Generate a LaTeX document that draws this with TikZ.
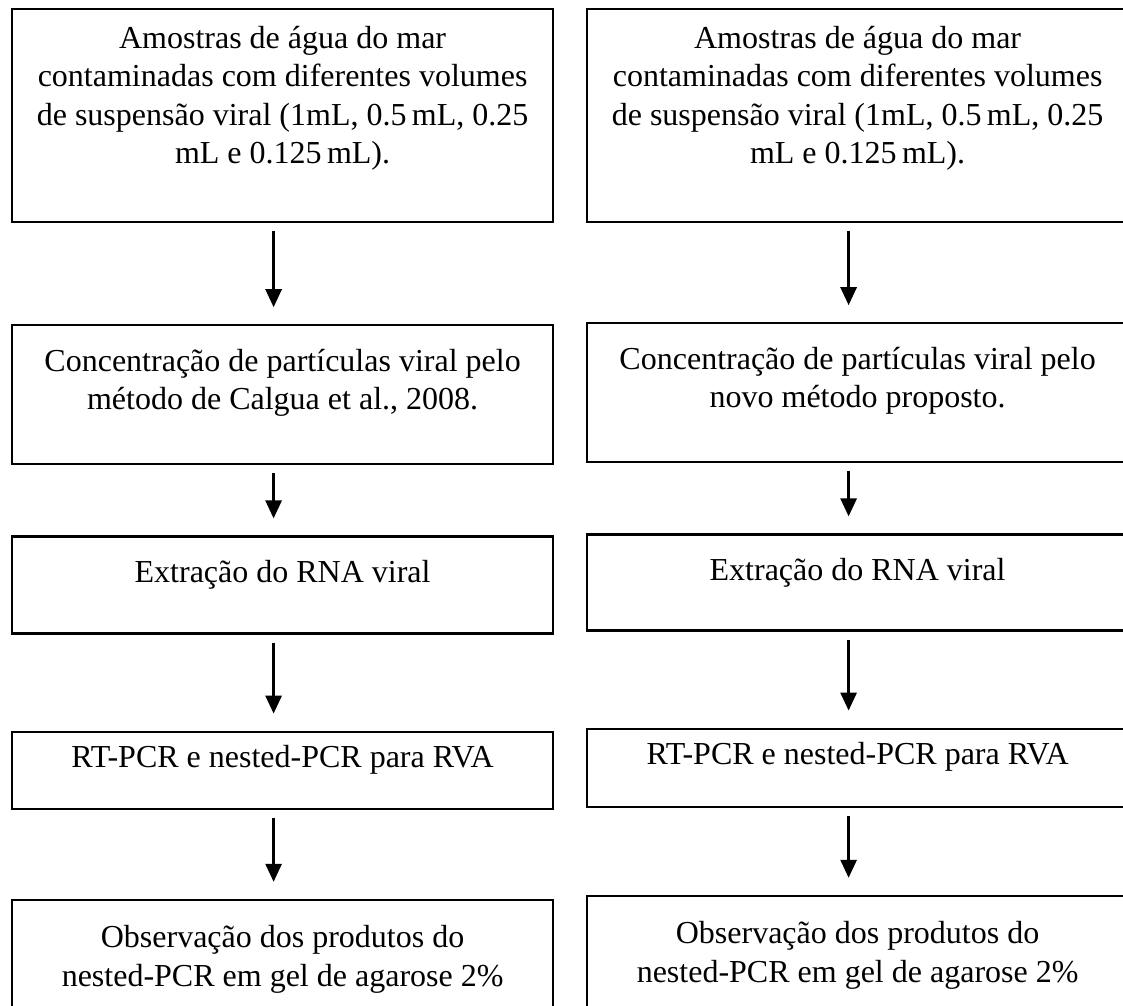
\documentclass[tikz,border=0pt]{standalone}
\usepackage{fontspec}
\setmainfont{Liberation Serif}
\usepackage{tikz}
\usetikzlibrary{positioning}
\usetikzlibrary{arrows.meta}
\tikzset{
	etapa/.style={draw,line width=2.2pt,align=center,inner ysep=0pt,minimum width=541pt,
		font=\fontsize{32}{38.5}\selectfont},
	seta/.style={-{Triangle[length=18pt,width=16pt]},line width=2.8pt,shorten <=8pt,shorten >=17pt}
}

\begin{document}
\begin{tikzpicture}[x=1pt,y=-1pt]
	\useasboundingbox (0,0) rectangle (1123,1005);
	% coluna esquerda
	\node [etapa,anchor=north west,text height=154.5pt,text depth=58.5pt] (e1) at (11,8) {Amostras de água do mar\\contaminadas com diferentes volumes\\de suspensão viral (1mL, 0.5\,mL, 0.25\\mL e 0.125\,mL).};
	\node [etapa,below=101pt of e1,text height=84.5pt,text depth=54.5pt] (e2) {Concentração de partículas viral pelo\\método de Calgua et al., 2008.};
	\node [etapa,below=70pt of e2,text height=46pt,text depth=51pt] (e3) {Extração do RNA viral};
	\node [etapa,below=96pt of e3,text height=36pt,text depth=41pt] (e4) {RT-PCR e nested-PCR para RVA};
	\node [etapa,below=89pt of e4,text height=86.5pt,text depth=51.5pt] (e5) {Observação dos produtos do\\nested-PCR em gel de agarose 2\%};
	% coluna direita
	\node [etapa,anchor=north west,text height=154.5pt,text depth=58.5pt] (d1) at (586,8) {Amostras de água do mar\\contaminadas com diferentes volumes\\de suspensão viral (1mL, 0.5\,mL, 0.25\\mL e 0.125\,mL).};
	\node [etapa,below=99pt of d1,text height=84.5pt,text depth=54.5pt] (d2) {Concentração de partículas viral pelo\\novo método proposto.};
	\node [etapa,below=70pt of d2,text height=46pt,text depth=50pt] (d3) {Extração do RNA viral};
	\node [etapa,below=96pt of d3,text height=36pt,text depth=42pt] (d4) {RT-PCR e nested-PCR para RVA};
	\node [etapa,below=87pt of d4,text height=86.5pt,text depth=51.5pt] (d5) {Observação dos produtos do\\nested-PCR em gel de agarose 2\%};
	% setas
	\foreach \a/\b in {e1/e2,e2/e3,e3/e4,e4/e5,d1/d2,d2/d3,d3/d4,d4/d5}
		\draw [seta] ([xshift=-9pt]\a.south) -- ([xshift=-9pt]\b.north);
\end{tikzpicture}
\end{document}
